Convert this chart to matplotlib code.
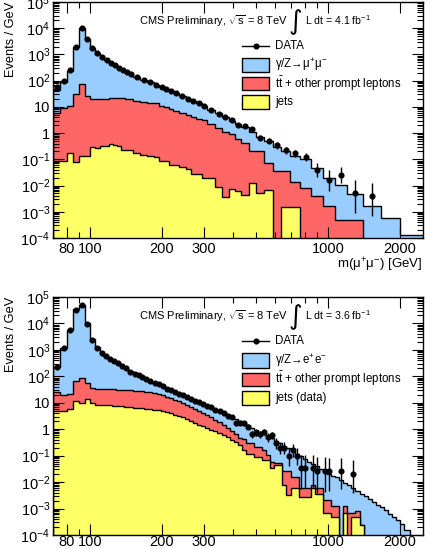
import numpy as np
import matplotlib
matplotlib.use("Agg")
import matplotlib.pyplot as plt
from matplotlib.patches import Rectangle
from matplotlib.lines import Line2D
from matplotlib.ticker import FixedLocator, NullFormatter, FuncFormatter, LogLocator

plt.rcParams['font.family'] = ['Liberation Sans', 'DejaVu Sans']
plt.rcParams['mathtext.fontset'] = 'custom'
plt.rcParams['mathtext.rm'] = 'Liberation Sans'
plt.rcParams['mathtext.it'] = 'Liberation Sans:italic'
plt.rcParams['mathtext.sf'] = 'Liberation Sans'

### mu mu panel (events / GeV, stack heights as drawn) ###
mm_edges = [70, 75, 80, 85, 90, 95, 100, 105, 110, 115,
            120, 125, 130, 135, 140, 145, 152, 162, 174, 185,
            195, 205, 214, 223, 236, 252, 265, 278, 294, 310,
            335, 358, 382, 406, 432, 464, 498, 540, 587, 635,
            690, 765, 850, 950, 1070, 1200, 1400, 1660, 2000, 2500]
mm_data = [56, 93, 245, 1900, 10000, 3900, 1730, 1120, 790, 620,
           490, 390, 315, 260, 220, 180, 140, 107, 87, 69,
           56, 48, 42, 33, 27, 20, 17, 13.5, 11, 7.7,
           5.5, 4.1, 3.2, 2.1, 1.9, 1.4, 0.68, 0.52, 0.34, 0.22,
           0.17, 0.12, 0.04, 0.017, 0.026, 0.0051, 0.0039, 0, 0]
mm_dy = [45, 88, 240, 1850, 9800, 3800, 1700, 1100, 780, 610,
         480, 385, 310, 255, 215, 178, 140, 108, 86, 68,
         56, 47, 41, 33, 26, 20.5, 16.5, 13.5, 11, 7.8,
         5.6, 4.1, 3.0, 2.2, 1.75, 1.15, 0.71, 0.48, 0.3, 0.2,
         0.14, 0.1, 0.045, 0.02, 0.0105, 0.0048, 0.0016, 0.00057, 0.00013]
mm_ttbar = [5.8, 8.9, 11, 30, 72, 26, 20, 20, 20, 20,
            21.5, 21.5, 21.5, 21, 20, 20, 17.5, 16, 14.5, 13.5,
            10.5, 9.5, 8.1, 7, 5.8, 4.8, 4.3, 3.6, 3.2, 2.3,
            1.6, 1.1, 0.9, 0.6, 0.42, 0.2, 0.2, 0.072, 0.035, 0.035,
            0.014, 0.008, 0.0039, 0.0017, 0.0005, 0.0005, 0, 0, 0]
mm_jets = [0.085, 0.085, 0.17, 0.076, 0.14, 0.14, 0.29, 0.27, 0.31, 0.31,
           0.37, 0.34, 0.31, 0.23, 0.23, 0.23, 0.17, 0.15, 0.13, 0.12,
           0.083, 0.083, 0.062, 0.062, 0.05, 0.043, 0.028, 0.028, 0.019, 0.019,
           0.0087, 0.0036, 0.0074, 0.006, 0.0045, 0.013, 0.005, 0.0065, 0, 0.0015,
           0.0015, 0, 0, 0, 0, 0, 0, 0, 0]

### e e panel ###
ee_edges = [70, 75, 80, 85, 90, 95, 100, 105, 110, 114,
            119, 124, 129, 134, 139, 145, 151, 157, 163, 169,
            176, 183, 191, 198, 206, 214, 223, 232, 241, 251,
            261, 271, 282, 293, 305, 317, 330, 343, 357, 371,
            386, 401, 417, 434, 452, 470, 488, 508, 528, 549,
            571, 594, 618, 643, 668, 695, 723, 752, 782, 813,
            846, 879, 915, 951, 989, 1029, 1070, 1113, 1157, 1204,
            1252, 1302, 1354, 1408, 1464, 1523, 1584, 1647, 1713, 1781,
            1853, 1927, 2004, 2084, 2200]
ee_data = [220, 1150, 5900, 32000, 49000, 9400, 2300, 1150, 790, 590,
           470, 390, 310, 250, 200, 150, 125, 108, 93, 80,
           65, 56, 50, 42, 34, 30, 26, 22, 19, 16,
           14, 12, 10.5, 9, 7.5, 7, 5.5, 5, 4, 3.3,
           2.8, 1.7, 1.74, 1.65, 1.24, 0.64, 0.74, 0.64, 0.81, 0.49,
           0.60, 0.29, 0.20, 0.20, 0.096, 0.16, 0.10, 0.033, 0.033, 0,
           0.033, 0.026, 0, 0.026, 0.026, 0, 0, 0.026, 0, 0,
           0.021, 0, 0, 0, 0, 0, 0, 0, 0, 0,
           0, 0, 0, 0]
ee_dy = [230, 1150, 5900, 35000, 50000, 10000, 2500, 1250, 800, 590,
         470, 390, 310, 250, 200, 155, 128, 108, 92, 78,
         66, 56, 49, 42, 35, 30, 26, 22, 19, 16,
         14, 12, 10.5, 9, 7.8, 6.8, 5.8, 5, 4.2, 3.5,
         2.9, 2.4, 2.0, 1.7, 1.4, 1.15, 0.95, 0.8, 0.66, 0.54,
         0.45, 0.36, 0.29, 0.23, 0.19, 0.15, 0.12, 0.095, 0.075, 0.06,
         0.048, 0.039, 0.031, 0.025, 0.021, 0.017, 0.015, 0.012, 0.0095, 0.0075,
         0.006, 0.0047, 0.0037, 0.0029, 0.0023, 0.0018, 0.0014, 0.0011, 0.00085, 0.00065,
         0.0005, 0.00037, 0.00026, 0.00015]
ee_ttbar = [26, 20, 22, 66, 87, 54, 37, 34, 32, 32,
            32, 32, 31, 31, 30, 30, 29, 28, 27, 26,
            25, 23, 21, 19, 17, 15, 13, 11.5, 10, 8.5,
            7, 6, 5, 4.2, 3.5, 2.8, 2.3, 1.8, 1.4, 1.1,
            0.85, 0.65, 0.48, 0.41, 0.31, 0.31, 0.22, 0.22, 0.16, 0.105,
            0.059, 0.051, 0.051, 0.027, 0.027, 0.016, 0.016, 0.0058, 0.0058, 0.0058,
            0.0077, 0.0058, 0.0058, 0.0021, 0.0021, 0.0012, 0.0012, 0, 0.0013, 0.00066,
            0.00066, 0.0008, 0.00024, 0, 0, 0, 0, 0, 0, 0,
            0, 0, 0, 0]
ee_jets = [4.8, 4.8, 6, 11.5, 9.5, 14, 9.5, 8.5, 8.1, 8,
           8, 7.8, 7.6, 7.4, 7.2, 7, 6.6, 6.4, 6.2, 6,
           5.8, 5.5, 5.2, 5, 4.5, 4, 3.5, 3.2, 2.8, 2.4,
           2.1, 1.7, 1.5, 1.3, 1.1, 0.95, 0.85, 0.7, 0.6, 0.5,
           0.4, 0.33, 0.25, 0.16, 0.12, 0.12, 0.09, 0.09, 0.068, 0.068,
           0.033, 0.044, 0.044, 0.0077, 0.0032, 0.0058, 0.0058, 0.0028, 0.0028, 0.0028,
           0.0058, 0.0037, 0.0037, 0.00066, 0.00066, 0.0005, 0.0005, 0, 0.00066, 0,
           0.0005, 0.0005, 0.00024, 0, 0, 0, 0, 0, 0, 0,
           0, 0, 0, 0]

BLUE = '#99ccff'
RED = '#ff6666'
YELLOW = '#ffff66'
FLOOR = 1e-7


def ylab(v, pos):
    e = int(round(np.log10(v)))
    if e == 0:
        return '1'
    if e == 1:
        return '10'
    return r'$10^{%d}$' % e


def draw_panel(ax, edges, data, dy, ttbar, jets, xpad):
    edges = np.array(edges, float)
    for vals, col in [(dy, BLUE), (ttbar, RED), (jets, YELLOW)]:
        v = np.array(vals, float)
        v[v <= 0] = FLOOR
        ax.stairs(v, edges, baseline=FLOOR, fill=True, facecolor=col,
                  edgecolor='black', linewidth=1.0)

    # data points with poisson (Gehrels) errors
    d = np.array(data, float)
    w = np.diff(edges)
    c = 0.5 * (edges[:-1] + edges[1:])
    m = d > 0
    n = d[m] * w[m]
    n_up = n + np.sqrt(n + 0.75) + 1
    n_lo = n * (1 - 1 / (9 * n) - 1 / (3 * np.sqrt(n))) ** 3
    err = [(n - n_lo) / w[m], (n_up - n) / w[m]]
    ax.errorbar(c[m], d[m], yerr=err, fmt='o', color='black', ms=3.4,
                elinewidth=1.0, capsize=0, zorder=5)

    ax.set_xscale('log')
    ax.set_yscale('log')
    ax.set_xlim(70, 2500)
    ax.set_ylim(1e-4, 1e5)
    ax.xaxis.set_major_locator(FixedLocator([80, 100, 200, 300, 1000, 2000]))
    ax.xaxis.set_major_formatter(FuncFormatter(lambda v, p: '%d' % v))
    ax.xaxis.set_minor_locator(FixedLocator([70, 90, 400, 500, 600, 700, 800, 900]))
    ax.xaxis.set_minor_formatter(NullFormatter())
    ax.yaxis.set_major_locator(LogLocator(base=10, numticks=20))
    ax.yaxis.set_major_formatter(FuncFormatter(ylab))
    ax.yaxis.set_minor_locator(LogLocator(base=10, subs=np.arange(2, 10), numticks=20))
    ax.yaxis.set_minor_formatter(NullFormatter())
    ax.tick_params(which='both', direction='in', top=True, right=True, width=0.8,
                   labelsize=10.5)
    ax.tick_params(which='major', length=8)
    ax.tick_params(which='minor', length=4)
    ax.tick_params(axis='x', pad=xpad)
    ax.tick_params(axis='y', pad=2)
    for s in ax.spines.values():
        s.set_linewidth(1.0)
    ax.set_ylabel('Events / GeV', loc='top', fontsize=9.2)
    ax.yaxis.set_label_coords(-0.097, 1.0)


def draw_legend(ax, dy_label, jets_label, lumi):
    x0, x1 = 0.511, 0.584
    yd = 0.814
    ax.add_line(Line2D([x0, x1], [yd, yd], transform=ax.transAxes, color='black', lw=1.0))
    ax.plot([(x0 + x1) / 2], [yd], 'o', color='black', ms=3.4, transform=ax.transAxes)
    ax.text(0.6, yd, 'DATA', transform=ax.transAxes, va='center', fontsize=8.3)
    boxes = [(0.703, 0.763, BLUE, dy_label),
             (0.627, 0.682, RED, r'$\mathrm{t\bar{t}}$ + other prompt leptons'),
             (0.547, 0.606, YELLOW, jets_label)]
    for y0, y1, col, lab in boxes:
        ax.add_patch(Rectangle((x0, y0), x1 - x0, y1 - y0, transform=ax.transAxes,
                               facecolor=col, edgecolor='black', lw=1.0))
        ax.text(0.6, (y0 + y1) / 2, lab, transform=ax.transAxes, va='center', fontsize=8.3)

    ax.text(0.232, 0.92, r'CMS Preliminary, $\sqrt{\mathrm{s}}$ = 8 TeV',
            transform=ax.transAxes, va='center', fontsize=8)
    ax.text(0.636, 0.915, '\u222b', transform=ax.transAxes, va='center',
            fontsize=19, family=['DejaVu Sans'])
    ax.text(0.682, 0.925, 'L dt = %s fb$^{-1}$' % lumi, transform=ax.transAxes,
            va='center', fontsize=7.6)


fig = plt.figure(figsize=(4.39, 5.49), dpi=100)
ax1 = fig.add_axes([53 / 439, 1 - 238 / 549, 370 / 439, 236 / 549])
ax2 = fig.add_axes([53 / 439, 1 - 535 / 549, 370 / 439, 238 / 549])

draw_panel(ax1, mm_edges, mm_data, mm_dy, mm_ttbar, mm_jets, 3)
draw_legend(ax1, '\u03b3/Z\u2192\u03bc$^{+}$\u03bc$^{-}$', 'jets', '4.1')
ax1.set_xlabel('m(\u03bc$^{+}$\u03bc$^{-}$) [GeV]', loc='right', fontsize=9.5, labelpad=0)

draw_panel(ax2, ee_edges, ee_data, ee_dy, ee_ttbar, ee_jets, 0)
draw_legend(ax2, '\u03b3/Z\u2192e$^{+}$e$^{-}$', 'jets (data)', '3.6')

fig.savefig('out.png', dpi=100)
